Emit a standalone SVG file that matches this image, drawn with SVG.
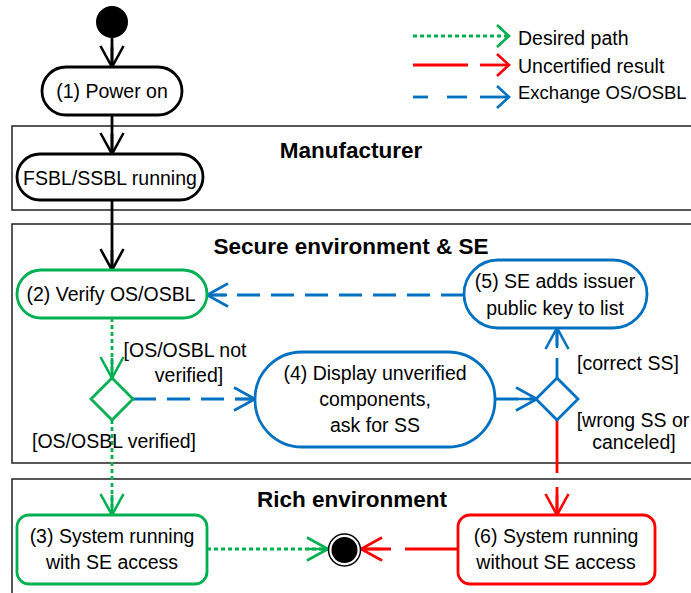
<svg xmlns="http://www.w3.org/2000/svg" width="691" height="593" viewBox="0 0 691 593">
<style>
  text { font-family: "Liberation Sans", Arial, sans-serif; font-size: 19.5px; fill: #000; }
  .title { font-weight: bold; font-size: 22.5px; text-anchor: middle; }
  .c { text-anchor: middle; }
  .frame { fill: none; stroke: #222; stroke-width: 1.5; }
  .node { fill: #fff; stroke-width: 2.8; }
  .k { stroke: #000; }
  .g { stroke: #00B050; }
  .b { stroke: #0070C0; }
  .r { stroke: #FF0000; }
  .edge { fill: none; stroke-width: 2.8; }
  .dot { stroke-dasharray: 4 3; }
  .dash { stroke-dasharray: 23 11; }
  .long { stroke-dasharray: 53 14; }
</style>
<defs>
  <marker id="ak" markerUnits="userSpaceOnUse" markerWidth="30" markerHeight="30" viewBox="-24 -15 30 30" refX="0" refY="0" orient="auto">
    <path d="M-21,-11.5 L0,0 L-21,11.5 M-20,0 L0,0" fill="none" stroke="#000" stroke-width="2.6"/>
  </marker>
  <marker id="ag" markerUnits="userSpaceOnUse" markerWidth="30" markerHeight="30" viewBox="-24 -15 30 30" refX="0" refY="0" orient="auto">
    <path d="M-21,-11.5 L0,0 L-21,11.5 M-20,0 L0,0" fill="none" stroke="#00B050" stroke-width="2.6"/>
  </marker>
  <marker id="ab" markerUnits="userSpaceOnUse" markerWidth="30" markerHeight="30" viewBox="-24 -15 30 30" refX="0" refY="0" orient="auto">
    <path d="M-21,-11.5 L0,0 L-21,11.5 M-20,0 L0,0" fill="none" stroke="#0070C0" stroke-width="2.6"/>
  </marker>
  <marker id="ar" markerUnits="userSpaceOnUse" markerWidth="30" markerHeight="30" viewBox="-24 -15 30 30" refX="0" refY="0" orient="auto">
    <path d="M-21,-11.5 L0,0 L-21,11.5 M-20,0 L0,0" fill="none" stroke="#FF0000" stroke-width="2.6"/>
  </marker>
  <marker id="lg" markerUnits="userSpaceOnUse" markerWidth="30" markerHeight="30" viewBox="-24 -15 30 30" refX="0" refY="0" orient="auto">
    <path d="M-12,-11 L0,0 L-12,11" fill="none" stroke="#00B050" stroke-width="2.6"/>
  </marker>
  <marker id="lr" markerUnits="userSpaceOnUse" markerWidth="30" markerHeight="30" viewBox="-24 -15 30 30" refX="0" refY="0" orient="auto">
    <path d="M-12,-11 L0,0 L-12,11" fill="none" stroke="#FF0000" stroke-width="2.6"/>
  </marker>
  <marker id="lb" markerUnits="userSpaceOnUse" markerWidth="30" markerHeight="30" viewBox="-24 -15 30 30" refX="0" refY="0" orient="auto">
    <path d="M-12,-11 L0,0 L-12,11" fill="none" stroke="#0070C0" stroke-width="2.6"/>
  </marker>
</defs>

<!-- Frames (swimlanes) -->
<g id="lane-manufacturer">
  <rect class="frame" x="12" y="126" width="700" height="84"/>
  <text class="title" x="351" y="158">Manufacturer</text>
</g>
<g id="lane-secure">
  <rect class="frame" x="12" y="224" width="700" height="239"/>
  <text class="title" x="351" y="254">Secure environment &amp; SE</text>
</g>
<g id="lane-rich">
  <rect class="frame" x="12" y="479" width="700" height="130"/>
  <text class="title" x="352" y="507">Rich environment</text>
</g>

<!-- Legend -->
<g id="legend">
  <line class="edge g dot" x1="413" y1="36" x2="509" y2="36" marker-end="url(#lg)"/>
  <text x="518" y="45">Desired path</text>
  <line class="edge r" x1="413" y1="65" x2="468" y2="65"/>
  <line class="edge r" x1="480" y1="65" x2="509" y2="65" marker-end="url(#lr)"/>
  <text x="518" y="73">Uncertified result</text>
  <line class="edge b" x1="413" y1="97" x2="428" y2="97"/>
  <line class="edge b" x1="447" y1="97" x2="467" y2="97"/>
  <line class="edge b" x1="480" y1="97" x2="509" y2="97" marker-end="url(#lb)"/>
  <text x="518" y="99" style="font-size:18.5px">Exchange OS/OSBL</text>
</g>

<!-- Connectors -->
<g id="connectors">
  <line class="edge k" x1="112" y1="38" x2="112" y2="67" marker-end="url(#ak)"/>
  <line class="edge k" x1="112" y1="115" x2="112" y2="154" marker-end="url(#ak)"/>
  <line class="edge k" x1="112" y1="200" x2="112" y2="270" marker-end="url(#ak)"/>
  <line class="edge g dot" x1="112" y1="318" x2="112" y2="378" marker-end="url(#ag)"/>
  <line class="edge g dot" x1="112" y1="420" x2="112" y2="515" marker-end="url(#ag)"/>
  <line class="edge b dash" x1="133" y1="399" x2="255" y2="399" marker-end="url(#ab)"/>
  <line class="edge b dash" x1="495" y1="399" x2="537" y2="399" marker-end="url(#ab)"/>
  <line class="edge b" x1="557" y1="378" x2="557" y2="358"/>
  <line class="edge b" x1="557" y1="346" x2="557" y2="328" marker-end="url(#ab)"/>
  <line class="edge b dash" x1="464" y1="295" x2="207" y2="295" marker-end="url(#ab)"/>
  <line class="edge r long" x1="557" y1="420" x2="557" y2="515" marker-end="url(#ar)"/>
  <line class="edge g dot" x1="207" y1="549" x2="328" y2="549" marker-end="url(#ag)"/>
  <line class="edge r long" x1="458" y1="549" x2="361" y2="549" marker-end="url(#ar)"/>
</g>

<!-- Nodes -->
<g id="start">
  <circle cx="112" cy="22" r="16" fill="#000"/>
</g>
<g id="power-on">
  <rect class="node k" x="42" y="67" width="140" height="48" rx="24"/>
  <text class="c" x="112" y="98">(1) Power on</text>
</g>
<g id="fsbl">
  <rect class="node k" x="17" y="154" width="186" height="46" rx="23"/>
  <text class="c" x="110" y="185">FSBL/SSBL running</text>
</g>
<g id="verify">
  <rect class="node g" x="17" y="270" width="190" height="48" rx="24"/>
  <text class="c" x="111" y="301">(2) Verify OS/OSBL</text>
</g>
<g id="decision1">
  <path class="node g" d="M112,378 L133,399 L112,420 L91,399 Z"/>
  <text class="c" x="185" y="357">[OS/OSBL not</text>
  <text class="c" x="189" y="382">verified]</text>
  <text x="32" y="448">[OS/OSBL verified]</text>
</g>
<g id="display">
  <rect class="node b" x="255" y="352" width="240" height="95" rx="47"/>
  <text class="c" x="375" y="380">(4) Display unverified</text>
  <text class="c" x="375" y="406">components,</text>
  <text class="c" x="375" y="432">ask for SS</text>
</g>
<g id="decision2">
  <path class="node b" d="M557,378 L578,399 L557,420 L536,399 Z"/>
  <text x="577" y="370">[correct SS]</text>
  <text class="c" x="633" y="427">[wrong SS or</text>
  <text class="c" x="634" y="449">canceled]</text>
</g>
<g id="se-adds">
  <rect class="node b" x="464" y="260" width="183" height="68" rx="34"/>
  <text class="c" x="555" y="288">(5) SE adds issuer</text>
  <text class="c" x="555" y="315">public key to list</text>
</g>
<g id="running-with">
  <rect class="node g" x="17" y="515" width="190" height="69" rx="12"/>
  <text class="c" x="112" y="543">(3) System running</text>
  <text class="c" x="112" y="569">with SE access</text>
</g>
<g id="running-without">
  <rect class="node r" x="458" y="515" width="197" height="69" rx="12"/>
  <text class="c" x="556" y="543">(6) System running</text>
  <text class="c" x="556" y="569">without SE access</text>
</g>
<g id="end">
  <circle cx="344.5" cy="550" r="16" fill="#fff" stroke="#000" stroke-width="1.5"/>
  <circle cx="344.5" cy="550" r="13" fill="#000"/>
</g>
</svg>
